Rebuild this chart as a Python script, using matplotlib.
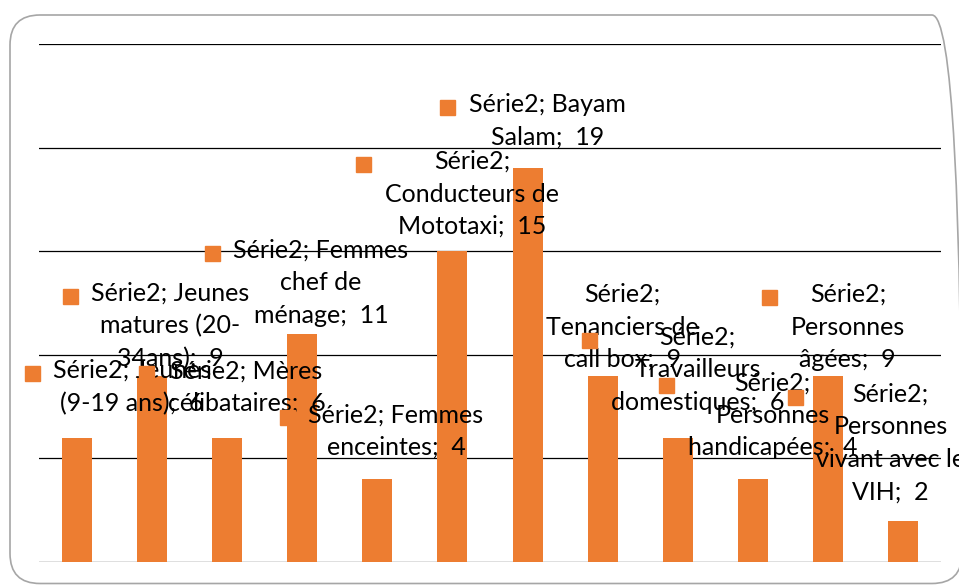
"""
Bar chart: Série2 par groupe de population.
"""
import matplotlib.pyplot as plt
from matplotlib.patches import FancyBboxPatch
import numpy as np

series_name = 'Série2'
categories = [
    'Jeunes (9-19 ans)', 'Jeunes matures (20-34ans)', 'Mères célibataires',
    'Femmes chef de ménage', 'Femmes enceintes', 'Conducteurs de Mototaxi',
    'Bayam Salam', 'Tenanciers de call box', 'Travailleurs domestiques',
    'Personnes handicapées', 'Personnes âgées', 'Personnes vivant avec le VIH',
]
values = [6, 9, 6, 11, 4, 15, 19, 9, 6, 4, 9, 2]

# data label text, wrapped the way the chart wraps it
label_templates = [
    '{s}; Jeunes\n(9-19 ans);  {v}',
    '{s}; Jeunes\nmatures (20-\n34ans);  {v}',
    '{s}; Mères\ncélibataires;  {v}',
    '{s}; Femmes\nchef de\nménage;  {v}',
    '{s}; Femmes\nenceintes;  {v}',
    '{s};\nConducteurs de\nMototaxi;  {v}',
    '{s}; Bayam\nSalam;  {v}',
    '{s};\nTenanciers de\ncall box;  {v}',
    '{s};\nTravailleurs\ndomestiques;  {v}',
    '{s};\nPersonnes\nhandicapées;  {v}',
    '{s};\nPersonnes\nâgées;  {v}',
    '{s};\nPersonnes\nvivant avec le\nVIH;  {v}',
]
# where each label block sits (data coords of its centre)
label_pos = [
    (0.74, 8.45), (1.25, 11.39), (2.26, 8.45), (3.25, 13.47),
    (4.25, 6.32), (5.26, 17.76), (6.26, 21.28), (7.26, 11.34),
    (8.26, 9.27), (9.26, 7.09), (10.26, 11.34), (10.83, 5.74),
]

orange = '#ED7D31'
plt.rcParams['font.family'] = ['Lato', 'DejaVu Sans']

fig = plt.figure(figsize=(9.59, 5.85), dpi=100)
ax = fig.add_axes([39 / 959, 23 / 585, 902 / 959, 518 / 585])

x = np.arange(len(categories))
ax.bar(x, values, width=0.4, color=orange, zorder=2)

ax.set_xlim(-0.5, len(categories) - 0.5)
ax.set_ylim(0, 25)
for gy in range(0, 30, 5):
    ax.axhline(gy, color='black', lw=0.9, zorder=1)
ax.set_xticks([])
ax.set_yticks([])
for spine in ax.spines.values():
    spine.set_visible(False)

texts = []
for tpl, v, (lx, ly) in zip(label_templates, values, label_pos):
    t = ax.text(lx, ly, tpl.format(s=series_name, v=v), ha='center',
                va='center', multialignment='center', fontsize=18,
                linespacing=1.5, zorder=4, clip_on=False)
    texts.append(t)

# legend keys: small square left of each label, level with its first line
fig.canvas.draw()
renderer = fig.canvas.get_renderer()
inv = ax.transData.inverted()
for t in texts:
    bb = t.get_window_extent(renderer)
    mx = bb.x0 - 14 - 7.5
    my = bb.y1 - 14
    px, py = inv.transform((mx, my))
    ax.plot(px, py, marker='s', ms=10.8, color=orange, mec=orange,
            clip_on=False, zorder=5)

# rounded chart-area border
border = FancyBboxPatch((10, 1.5), 952, 568.5,
                        boxstyle='round,pad=0,rounding_size=30',
                        transform=None, facecolor='none',
                        edgecolor='#a6a6a6', lw=1.2)
fig.add_artist(border)

fig.savefig('out.png', dpi=100)
